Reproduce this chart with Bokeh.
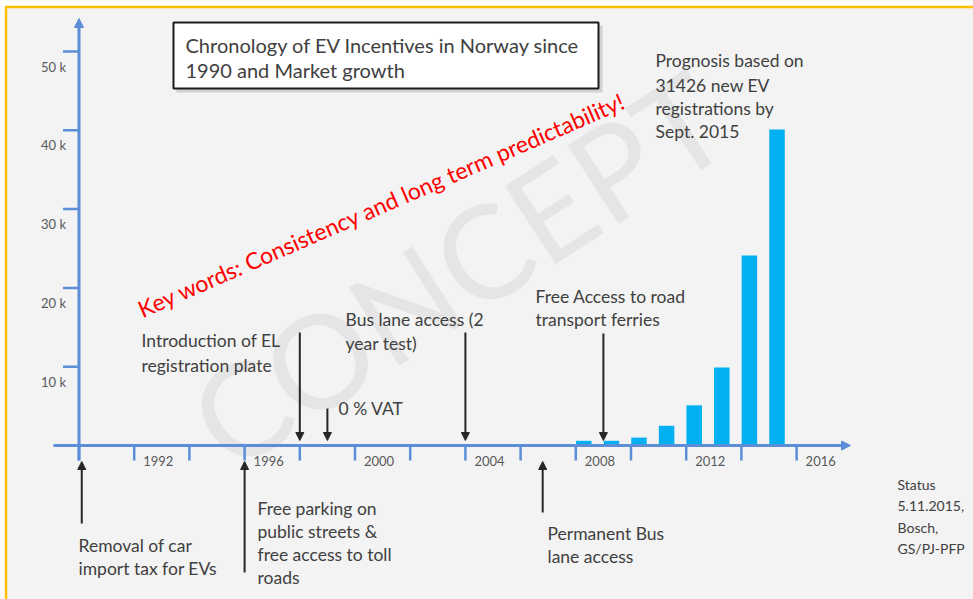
from bokeh.plotting import figure
from bokeh.models import Range1d, Arrow, NormalHead
from bokeh.core.properties import value
from bokeh.embed import file_html
from bokeh.resources import INLINE
import math

# ---------------- data ----------------
bar_years = [2008, 2009, 2010, 2011, 2012, 2013, 2014, 2015]
ev_stock = [600, 600, 1000, 2500, 5100, 9900, 24100, 40100]

y_ticks = [10000, 20000, 30000, 40000, 50000]
y_tick_labels = ["10 k", "20 k", "30 k", "40 k", "50 k"]
x_ticks = list(range(1990, 2017, 2))
x_label_years = [1992, 1996, 2000, 2004, 2008, 2012, 2016]
x_label_texts = ["1992", "1996", "2000", "2004", "2008", "2012", "2016"]

down_events_year = [1998, 1999, 2004, 2009]
up_events_year = [1990.1, 1996, 2006.8]

title_lines = ["Chronology of EV Incentives in Norway since", "1990 and Market growth"]
keywords = "Key words: Consistency and long term predictability!"
watermark = "CONCEPT"

# ---------------- layout helpers (picture pixels -> data units) ----------------
W, H = 973, 599
PX_PER_YEAR = 27.6
X0_PX = 78.5              # pixel of year 1990
PX_PER_UNIT = 78.8 / 10000
Y0_PX = 445               # pixel of value 0 (from top)

def fx(px):
    return 1990 + (px - X0_PX) / PX_PER_YEAR

def fy(py):
    return (Y0_PX - py) / PX_PER_UNIT

def dx(px):
    return px / PX_PER_YEAR

def dy(px):
    return px / PX_PER_UNIT

p = figure(width=W, height=H, output_backend="svg", toolbar_location=None,
           x_axis_location=None, y_axis_location=None,
           x_range=Range1d(fx(0), fx(W)), y_range=Range1d(fy(H), fy(0)),
           min_border=0, background_fill_color="#f3f3f3", border_fill_color="white",
           outline_line_color=None)
p.grid.visible = False

FONT = value("Lato")
GREY = "#404040"
AXIS_BLUE = "#5b8ed6"

# slide frame: white margin and gold border
p.quad(left=[fx(0), fx(0)], right=[fx(4.5), fx(W)], top=[fy(0), fy(0)], bottom=[fy(H), fy(5.5)],
       fill_color="white", line_color=None)
p.segment(x0=[fx(4.5), fx(5.5)], y0=[fy(6.5), fy(6.5)], x1=[fx(W), fx(5.5)], y1=[fy(6.5), fy(H)],
          line_color="#ffc000", line_width=2.5)

# watermark
p.text(x=[fx(457)], y=[fy(268)], text=[watermark], angle=math.radians(33),
       text_font=FONT, text_font_size="130px", text_color="#e5e5e5",
       text_align="center", text_baseline="middle")

# title box with shadow
p.quad(left=[fx(176)], right=[fx(602)], top=[fy(25)], bottom=[fy(92)],
       fill_color="#b0b0b0", fill_alpha=0.5, line_color=None)
p.quad(left=[fx(173)], right=[fx(598)], top=[fy(22)], bottom=[fy(88)],
       fill_color="white", line_color="#1a1a1a", line_width=2)
p.text(x=[fx(185)] * 2, y=[fy(44), fy(69)], text=title_lines, text_font=FONT,
       text_font_size="20px", text_color=GREY, text_baseline="middle")

# red key words
p.text(x=[fx(381)], y=[fy(204)], text=[keywords], angle=math.radians(23.5),
       text_font=FONT, text_font_size="23px", text_color="#ff0000",
       text_align="center", text_baseline="middle")

# bars
bar_x = [yr + dx(8) for yr in bar_years]
p.vbar(x=bar_x, top=ev_stock, bottom=0, width=dx(15.5), fill_color="#00b0f0", line_color=None)

# axes
p.add_layout(Arrow(end=NormalHead(size=9, fill_color=AXIS_BLUE, line_color=AXIS_BLUE),
                   x_start=fx(53), y_start=0, x_end=fx(850), y_end=0,
                   line_color=AXIS_BLUE, line_width=3))
p.add_layout(Arrow(end=NormalHead(size=9, fill_color=AXIS_BLUE, line_color=AXIS_BLUE),
                   x_start=1990, y_start=fy(460), x_end=1990, y_end=fy(18),
                   line_color=AXIS_BLUE, line_width=3))
p.segment(x0=[1990 - dx(16)] * len(y_ticks), x1=[1990] * len(y_ticks), y0=y_ticks, y1=y_ticks,
          line_color=AXIS_BLUE, line_width=2.5)
p.segment(x0=x_ticks, x1=x_ticks, y0=[0] * len(x_ticks), y1=[-dy(15)] * len(x_ticks),
          line_color=AXIS_BLUE, line_width=2.5)
p.text(x=[1990 - dx(13)] * len(y_ticks), y=[t - dy(15) for t in y_ticks], text=y_tick_labels,
       text_font=FONT, text_font_size="13px", text_color="#595959",
       text_align="right", text_baseline="middle")
p.text(x=[t + dx(9) for t in x_label_years], y=[-dy(15)] * len(x_label_years), text=x_label_texts,
       text_font=FONT, text_font_size="13px", text_color="#595959",
       text_align="left", text_baseline="middle")

# event arrows
down_tops = [fy(332), fy(408), fy(332), fy(333)]
for yr, top in zip(down_events_year, down_tops):
    p.add_layout(Arrow(end=NormalHead(size=8, fill_color="#262626", line_color="#262626"),
                       x_start=yr, y_start=top, x_end=yr, y_end=dy(5),
                       line_color="#262626", line_width=2))
up_bottoms = [fy(523), fy(572), fy(512)]
for yr, bot in zip(up_events_year, up_bottoms):
    p.add_layout(Arrow(end=NormalHead(size=8, fill_color="#262626", line_color="#262626"),
                       x_start=yr, y_start=bot, x_end=yr, y_end=-dy(16),
                       line_color="#262626", line_width=2))

# annotation texts
notes = [
    (141, 340, "Introduction of EL"), (141, 365, "registration plate"),
    (338, 408, "0 % VAT"),
    (345, 319, "Bus lane access (2"), (345, 343, "year test)"),
    (535, 296, "Free Access to road"), (535, 319, "transport ferries"),
    (655, 60, "Prognosis based on"), (655, 85, "31426 new EV"),
    (655, 108, "registrations by"), (655, 131, "Sept. 2015"),
    (78, 545, "Removal of car"), (78, 568, "import tax for EVs"),
    (257, 508, "Free parking on"), (257, 531, "public streets &"),
    (257, 554, "free access to toll"), (257, 577, "roads"),
    (547, 533, "Permanent Bus"), (547, 556, "lane access"),
]
p.text(x=[fx(n[0]) for n in notes], y=[fy(n[1]) for n in notes], text=[n[2] for n in notes],
       text_font=FONT, text_font_size="17.5px", text_color=GREY, text_baseline="middle")

status = [(897, 484, "Status"), (897, 505, "5.11.2015,"), (897, 527, "Bosch,"), (897, 548, "GS/PJ-PFP")]
p.text(x=[fx(s[0]) for s in status], y=[fy(s[1]) for s in status], text=[s[2] for s in status],
       text_font=FONT, text_font_size="14px", text_color=GREY, text_baseline="middle")

open("out.html", "w").write(file_html(p, INLINE))
